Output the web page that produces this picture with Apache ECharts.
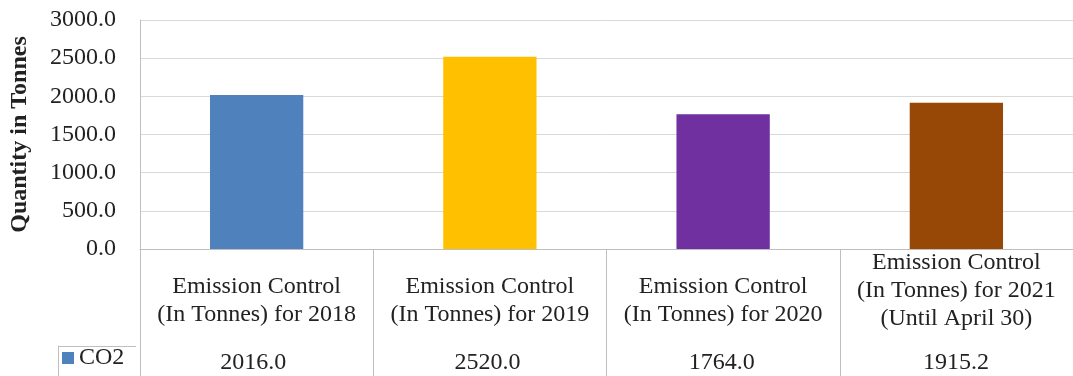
<!DOCTYPE html>
<html>
<head>
<meta charset="utf-8">
<script src="https://cdn.jsdelivr.net/npm/echarts@6/dist/echarts.min.js"></script>
<style>
  html, body { margin: 0; padding: 0; background: #ffffff; }
  #chart { width: 1073px; height: 376px; }
</style>
</head>
<body>
<div id="chart"></div>
<script>
// Emission control figures per period (tonnes of CO2)
const categories = [
  'Emission Control\n(In Tonnes) for 2018',
  'Emission Control\n(In Tonnes) for 2019',
  'Emission Control\n(In Tonnes) for 2020',
  'Emission Control\n(In Tonnes) for 2021\n(Until April 30)'
];
const seriesName = 'CO2';
const co2Values = [2016.0, 2520.0, 1764.0, 1915.2];
const barColors = ['#4F81BD', '#FFC000', '#7030A0', '#974706'];
const yTicks = { min: 0, max: 3000, interval: 500 };
const yTitle = 'Quantity in Tonnes';

const FONT = 'Liberation Serif';
const TXT = '#222222';
const LINE = '#BFBFBF';
const GRID = '#D9D9D9';

const chart = echarts.init(document.getElementById('chart'), null, { renderer: 'canvas' });

chart.setOption({
  animation: false,
  backgroundColor: '#ffffff',
  textStyle: { fontFamily: FONT },
  grid: [
    { left: 136, width: 943, top: 20, height: 229 },
    { left: 136, width: 943, top: 346, height: 40 }
  ],
  legend: {
    data: [seriesName],
    left: 62, top: 346,
    padding: 0,
    itemWidth: 12, itemHeight: 12, itemGap: 4,
    icon: 'rect',
    textStyle: { fontFamily: FONT, fontSize: 24, color: TXT, padding: [3, 0, 0, 0] }
  },
  xAxis: [
    {
      gridIndex: 0,
      type: 'category',
      data: categories,
      axisLine: { show: true, lineStyle: { color: LINE, width: 1 } },
      axisTick: { show: true, interval: 0, length: 127, lineStyle: { color: LINE, width: 1 } },
      axisLabel: {
        interval: 0,
        margin: 0,
        verticalAlign: 'top',
        fontFamily: FONT,
        formatter: function (v) {
          const lines = v.split('\n');
          const pre = lines.length < 3 ? '{gap| }\n' : '';
          return pre + lines.map(l => '{t|' + l + '}').join('\n');
        },
        rich: {
          t: { fontFamily: FONT, fontSize: 24, lineHeight: 28, color: TXT },
          gap: { fontFamily: FONT, fontSize: 2, lineHeight: 24 }
        }
      }
    },
    {
      gridIndex: 1,
      type: 'category',
      position: 'top',
      data: categories,
      axisLine: { show: true, lineStyle: { color: LINE, width: 1 } },
      axisTick: { show: true, inside: true, interval: 0, length: 40, lineStyle: { color: LINE, width: 1 } },
      axisLabel: {
        inside: true,
        interval: 0,
        margin: 17,
        verticalAlign: 'middle',
        fontFamily: FONT, fontSize: 24, color: TXT,
        formatter: function (v, i) { return co2Values[i].toFixed(1); }
      }
    }
  ],
  yAxis: [
    {
      gridIndex: 0,
      type: 'value',
      min: yTicks.min, max: yTicks.max, interval: yTicks.interval,
      name: yTitle,
      nameLocation: 'middle',
      nameGap: 108,
      nameTextStyle: { fontFamily: FONT, fontSize: 24, fontWeight: 'bold', color: TXT },
      axisLine: { show: true, lineStyle: { color: LINE, width: 1 } },
      axisTick: { show: false },
      axisLabel: {
        margin: 24,
        fontFamily: FONT, fontSize: 24, color: TXT,
        formatter: function (v) { return v.toFixed(1); }
      },
      splitLine: { show: true, lineStyle: { color: GRID, width: 1 } }
    },
    {
      gridIndex: 1,
      type: 'value',
      offset: 78,
      axisLine: { show: true, lineStyle: { color: LINE, width: 1 } },
      axisTick: { show: false },
      axisLabel: { show: false },
      splitLine: { show: false }
    }
  ],
  graphic: [
    {
      type: 'line',
      shape: { x1: 58, y1: 346.5, x2: 136, y2: 346.5 },
      style: { stroke: LINE, lineWidth: 1 },
      silent: true
    }
  ],
  series: [
    {
      name: seriesName,
      type: 'bar',
      xAxisIndex: 0,
      yAxisIndex: 0,
      barWidth: '40%',
      itemStyle: { color: barColors[0] },
      data: co2Values.map((v, i) => ({ value: v, itemStyle: { color: barColors[i] } }))
    }
  ]
});
</script>
</body>
</html>
